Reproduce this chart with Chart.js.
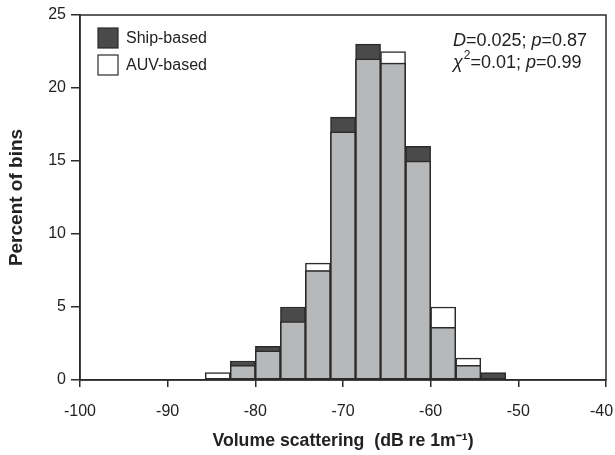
<!DOCTYPE html>
<html lang="en">
<head>
<meta charset="UTF-8">
<title>Volume scattering histogram</title>
<script src="https://cdn.jsdelivr.net/npm/chart.js"></script>
<style>
  body { margin: 0; background: #fff; }
</style>
</head>
<body>
<canvas id="myChart" width="615" height="455"></canvas>
<script>
// bin centres (dB), bins are 20/7 dB wide
const binCenters = [-84.29, -81.43, -78.57, -75.71, -72.86, -70, -67.14, -64.29, -61.43, -58.57, -55.71, -52.86];
const shipPct = [0, 1.3, 2.3, 5, 7.5, 18, 23, 21.7, 16, 3.6, 1.0, 0.5];
const auvPct  = [0.5, 1.0, 2.0, 4, 8, 17, 22, 22.5, 15, 5, 1.5, 0];
const legendNames = ['Ship-based', 'AUV-based'];
const statLine1 = [['D', true], ['=0.025; ', false], ['p', true], ['=0.87', false]];
const statLine2 = [['χ', true], ['2', 'sup'], ['=0.01; ', false], ['p', true], ['=0.99', false]];

const FONT = '"Liberation Sans", Arial, sans-serif';
const INK = '#2b2b2b';
const DARK = '#4a4a4a';
const GREY = '#b7b8ba';

function pts(vals) {
    return binCenters.map((x, i) => ({ x: x, y: vals[i] }));
}
const overlap = shipPct.map((v, i) => Math.min(v, auvPct[i]));

// frame, legend and stats text drawn inside the plot
const extras = {
    id: 'extras',
    afterDraw(chart) {
        const c = chart.ctx, a = chart.chartArea;
        c.save();
        c.strokeStyle = INK;
        c.lineWidth = 1.5;
        c.strokeRect(a.left, a.top, a.right - a.left, a.bottom - a.top);

        // legend
        const fills = [DARK, '#ffffff'];
        c.font = '16px ' + FONT;
        c.textBaseline = 'middle';
        for (let i = 0; i < 2; i++) {
            const y = a.top + 13 + i * 27;
            c.fillStyle = fills[i];
            c.fillRect(a.left + 18, y, 20, 20);
            c.strokeStyle = INK;
            c.lineWidth = 1.2;
            c.strokeRect(a.left + 18, y, 20, 20);
            c.fillStyle = '#222';
            c.fillText(legendNames[i], a.left + 46, y + 11);
        }

        // stats
        function line(parts, x, y) {
            for (const p of parts) {
                if (p[1] === 'sup') {
                    c.font = '12px ' + FONT;
                    c.fillText(p[0], x + 1, y - 7);
                    x += 1;
                } else {
                    c.font = (p[1] ? 'italic ' : '') + '18px ' + FONT;
                    c.fillText(p[0], x, y);
                }
                x += c.measureText(p[0]).width;
            }
        }
        c.fillStyle = '#222';
        line(statLine1, 453, 41);
        line(statLine2, 453, 63);
        c.restore();
    }
};

const ctx = document.getElementById('myChart').getContext('2d');
const myChart = new Chart(ctx, {
    type: 'bar',
    data: {
        datasets: [
            { label: 'overlap', data: pts(overlap), backgroundColor: GREY, order: 0 },
            { label: legendNames[0], data: pts(shipPct), backgroundColor: DARK, order: 1 },
            { label: legendNames[1], data: pts(auvPct), backgroundColor: '#ffffff', order: 2 }
        ]
    },
    options: {
        responsive: false,
        animation: false,
        layout: { padding: { top: 15, right: 0, left: 0, bottom: 0 } },
        datasets: {
            bar: {
                grouped: false,
                barPercentage: 1,
                categoryPercentage: 1,
                borderColor: INK,
                borderWidth: 1.5,
                borderSkipped: false
            }
        },
        plugins: {
            legend: { display: false },
            tooltip: { enabled: false }
        },
        scales: {
            x: {
                type: 'linear',
                min: -100,
                max: -40,
                offset: false,
                grid: { offset: false, drawOnChartArea: false, drawTicks: true, tickLength: 7, color: INK, lineWidth: 1.5 },
                border: { color: INK, width: 1.5 },
                ticks: {
                    stepSize: 10, color: '#222', font: { family: FONT, size: 16 }, padding: 15, maxRotation: 0,
                    // keep the last label inside the canvas
                    callback: v => (v === -40 ? v + '  ' : v)
                },
                title: {
                    display: true,
                    text: 'Volume scattering  (dB re 1m\u207B\u00B9)',
                    color: '#222',
                    font: { family: FONT, size: 17.7, weight: 'bold' },
                    padding: { top: 0, bottom: 3 }
                },
                afterFit(s) {
                    s.height = 75;
                    s.paddingRight = 9;
                    s.paddingLeft = 0;
                }
            },
            y: {
                min: 0,
                max: 25,
                grid: { drawOnChartArea: false, drawTicks: true, tickLength: 9, color: INK, lineWidth: 1.5 },
                border: { color: INK, width: 1.5 },
                ticks: { stepSize: 5, color: '#222', font: { family: FONT, size: 16 }, padding: 5 },
                title: {
                    display: true,
                    text: 'Percent of bins',
                    color: '#222',
                    font: { family: FONT, size: 19, weight: 'bold' },
                    padding: { top: 5, bottom: 0 }
                },
                afterFit(s) { s.width = 80; }
            }
        }
    },
    plugins: [extras]
});
</script>
</body>
</html>
